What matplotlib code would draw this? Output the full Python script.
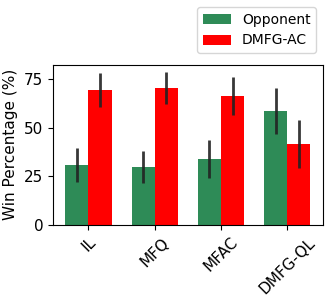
import matplotlib
matplotlib.use("Agg")
import matplotlib.pyplot as plt
import numpy as np

categories = ["IL", "MFQ", "MFAC", "DMFG-QL"]
opponent = [30.9, 29.8, 34.0, 58.7]
opponent_err = [8.6, 8.2, 9.6, 11.9]
dmfg_ac = [69.5, 70.5, 66.4, 41.7]
dmfg_ac_err = [8.7, 8.0, 9.6, 12.2]

fig = plt.figure(figsize=(3.28, 3.03), dpi=100)
ax = fig.add_axes([0.1616, 0.2574, 0.8224, 0.5291])
x = np.arange(len(categories))
w = 0.35
ax.bar(x - w/2, opponent, w, yerr=opponent_err, color="seagreen", label="Opponent",
       error_kw=dict(ecolor="#222222", elinewidth=2, alpha=0.9))
ax.bar(x + w/2, dmfg_ac, w, yerr=dmfg_ac_err, color="red", label="DMFG-AC",
       error_kw=dict(ecolor="#222222", elinewidth=2, alpha=0.9))
ax.set_xticks(x)
ax.set_xticklabels(categories, rotation=45, fontsize=11)
ax.set_yticks([0, 25, 50, 75])
ax.tick_params(axis="y", labelsize=11)
ax.set_ylabel("Win Percentage (%)", fontsize=11)
ax.set_ylim(0, 82.5)
fig.legend(loc="upper right", bbox_to_anchor=(316/328, 1 - 7/303), fontsize=10,
           bbox_transform=fig.transFigure, borderaxespad=0)
fig.savefig("out.png", dpi=100)
